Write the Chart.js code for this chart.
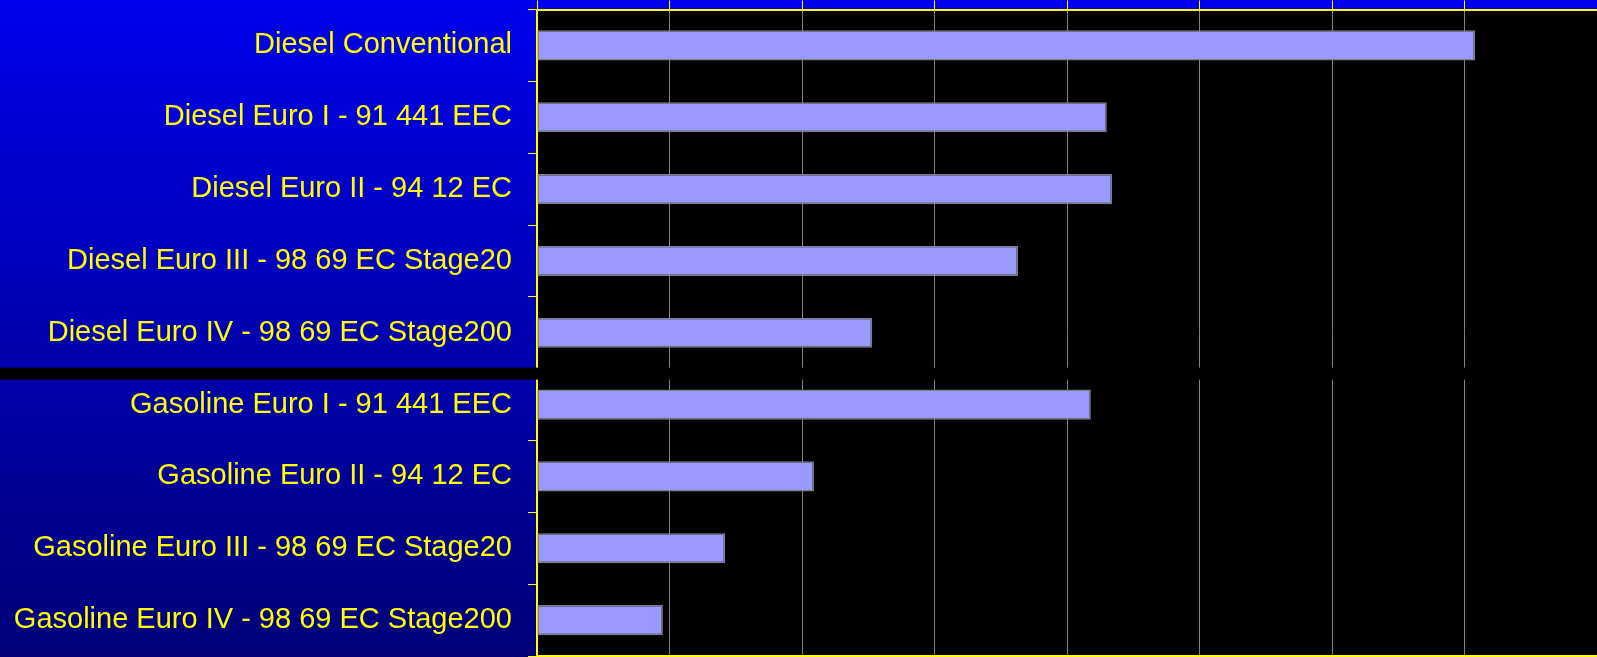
<!DOCTYPE html>
<html>
<head>
<meta charset="utf-8">
<script src="https://cdn.jsdelivr.net/npm/chart.js@4.4.1/dist/chart.umd.min.js"></script>
<style>
    html, body { margin: 0; padding: 0; background: #000; }
    canvas { display: block; }
</style>
</head>
<body>
<canvas id="emissionChart" width="1597" height="657"></canvas>
<script>
// Vehicle categories and bar lengths
const categories = [
    'Diesel Conventional',
    'Diesel Euro I - 91 441 EEC',
    'Diesel Euro II - 94 12 EC',
    'Diesel Euro III - 98 69 EC Stage20',
    'Diesel Euro IV - 98 69 EC Stage200',
    'Gasoline Euro I - 91 441 EEC',
    'Gasoline Euro II - 94 12 EC',
    'Gasoline Euro III - 98 69 EC Stage20',
    'Gasoline Euro IV - 98 69 EC Stage200'
];
const emissionValues = [7.08, 4.30, 4.34, 3.63, 2.53, 4.18, 2.09, 1.42, 0.95];
const axisMin = 0;
const axisMax = 8;
const axisStep = 1;

// Blue slide background + black plot area
const backgroundPlugin = {
    id: 'slideBackground',
    beforeDraw(chart) {
        const { ctx, width, height, chartArea } = chart;
        const grad = ctx.createLinearGradient(0, 0, 0, height);
        grad.addColorStop(0, '#0000EC');
        grad.addColorStop(1, '#000078');
        ctx.save();
        ctx.fillStyle = grad;
        ctx.fillRect(0, 0, width, height);
        ctx.fillStyle = '#000000';
        ctx.fillRect(chartArea.left, chartArea.top, chartArea.right - chartArea.left, chartArea.bottom - chartArea.top);
        ctx.restore();
    }
};

// Black strip separating diesel and gasoline groups
const separatorPlugin = {
    id: 'groupSeparator',
    afterDraw(chart) {
        const y = chart.scales.y;
        const split = (y.getPixelForValue(4) + y.getPixelForValue(5)) / 2;
        const ctx = chart.ctx;
        ctx.save();
        ctx.fillStyle = '#000000';
        ctx.fillRect(0, split - 1, chart.width, 12);
        ctx.restore();
    }
};

new Chart(document.getElementById('emissionChart'), {
    type: 'bar',
    data: {
        labels: categories,
        datasets: [{
            data: emissionValues,
            backgroundColor: '#9999FF',
            borderColor: '#808080',
            borderWidth: 1.5,
            borderSkipped: false,
            categoryPercentage: 1,
            barPercentage: 0.42
        }]
    },
    options: {
        indexAxis: 'y',
        responsive: false,
        animation: false,
        layout: { padding: 0 },
        plugins: {
            legend: { display: false },
            tooltip: { enabled: false }
        },
        scales: {
            x: {
                position: 'top',
                min: axisMin,
                max: axisMax,
                ticks: { display: false, stepSize: axisStep },
                grid: {
                    color: '#808080',
                    lineWidth: 1,
                    tickColor: '#FFFF00',
                    tickLength: 9
                },
                border: { color: '#FFFF00', width: 2 },
                afterFit: s => { s.height = 9.5; }
            },
            xBottom: {
                axis: 'x',
                position: 'bottom',
                min: axisMin,
                max: axisMax,
                ticks: { display: false },
                grid: { display: false },
                border: { color: '#FFFF00', width: 2 },
                afterFit: s => { s.height = 1; }
            },
            y: {
                ticks: {
                    color: '#FFFF00',
                    padding: 16,
                    font: { family: "'Liberation Sans', Arial, sans-serif", size: 29 }
                },
                grid: {
                    drawOnChartArea: false,
                    color: '#FFFF00',
                    tickColor: '#FFFF00',
                    tickLength: 9,
                    offset: true
                },
                border: { color: '#FFFF00', width: 2 },
                afterFit: s => {
                    s.width = 537;
                    s.paddingTop = 0;
                    s.paddingBottom = 0;
                }
            }
        }
    },
    plugins: [backgroundPlugin, separatorPlugin]
});
</script>
</body>
</html>
